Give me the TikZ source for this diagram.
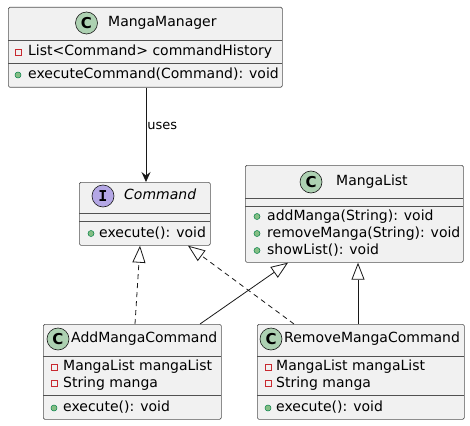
\documentclass[tikz,border=0pt]{standalone}
\usepackage{fontspec}
\setmainfont{DejaVu Sans}
\newfontfamily\monobold{DejaVu Sans Mono}
\usetikzlibrary{arrows.meta,calc}
\definecolor{boxfill}{HTML}{F1F1F1}
\definecolor{boxline}{HTML}{181818}
\definecolor{cgreen}{HTML}{ADD1B2}
\definecolor{ipurple}{HTML}{B4A7E5}
\definecolor{pubfill}{HTML}{84BE84}
\definecolor{publine}{HTML}{038048}
\definecolor{privline}{HTML}{C82930}
\begin{document}
\begin{tikzpicture}[x=1pt,y=-1pt,
  umlbox/.style={draw=boxline!75, line width=0.7pt, fill=boxfill, rounded corners=1.5pt,
    anchor=north west, inner sep=0pt},
  divline/.style={draw=boxline!75, line width=0.7pt},
  cicon/.style={circle, draw=boxline, line width=0.6pt, fill=cgreen, minimum size=22pt,
    inner sep=0pt, font=\fontsize{15}{15}\selectfont\bfseries},
  iicon/.style={circle, draw=boxline, line width=0.6pt, fill=ipurple, minimum size=22pt,
    inner sep=0pt, font=\fontsize{15}{15}\selectfont\monobold\bfseries},
  cname/.style={anchor=west, inner sep=0pt, text height=10.5pt, text depth=3pt,
    font=\fontsize{14}{16}\selectfont},
  member/.style={anchor=west, inner sep=0pt, text height=10.5pt, text depth=3pt,
    font=\fontsize{14}{16}\selectfont},
  priv/.style={rectangle, draw=privline, line width=0.6pt, minimum size=6pt, inner sep=0pt},
  pub/.style={circle, draw=publine, line width=0.5pt, fill=pubfill, minimum size=6pt, inner sep=0pt},
  conn/.style={draw=boxline, line width=0.8pt},
  assoc/.style={conn, -{Stealth[length=10pt,width=9pt,inset=3.5pt]}},
  realiz/.style={conn, dash pattern=on 5pt off 4pt, -{Triangle[length=17pt,width=13pt,fill=white]}},
  generalz/.style={conn, -{Triangle[length=17pt,width=13pt,fill=white]}}
]
\useasboundingbox (0,0) rectangle (470,425);

% ---------- MangaManager ----------
\node[umlbox, minimum width=274pt, minimum height=80pt] (mm) at (8,7) {};
\draw[divline] (8,40) -- (282,40);
\draw[divline] (8,63) -- (282,63);
\node[cicon] (mmi) at (86.5,23) {C};
\node[cname] (mmn) at (108,23) {MangaManager};
\node[priv] (mmp1) at (18,52) {};
\node[member] (mma1) at (28,52) {List<Command> commandHistory};
\node[pub] (mmp2) at (18,75) {};
\node[member] (mmm1) at (28,75) {executeCommand(Command): void};

% ---------- Command ----------
\node[umlbox, minimum width=131pt, minimum height=63pt] (cmd) at (79,182) {};
\draw[divline] (79,213) -- (210,213);
\draw[divline] (79,221) -- (210,221);
\node[iicon] (cmdi) at (103,196) {I};
\node[cname, font=\fontsize{14}{16}\selectfont\itshape] (cmdn) at (124,196) {Command};
\node[pub] (cmdp1) at (91,233.5) {};
\node[member] (cmdm1) at (99,233.5) {execute(): void};

% ---------- MangaList ----------
\node[umlbox, minimum width=218pt, minimum height=97pt] (ml) at (245,165) {};
\draw[divline] (245,198) -- (463,198);
\draw[divline] (245,206) -- (463,206);
\node[cicon] (mli) at (311,182) {C};
\node[cname] (mln) at (336,182) {MangaList};
\node[pub] (mlp1) at (257,216.5) {};
\node[member] (mlm1) at (267,216.5) {addManga(String): void};
\node[pub] (mlp2) at (257,233.5) {};
\node[member] (mlm2) at (267,233.5) {removeManga(String): void};
\node[pub] (mlp3) at (257,250.5) {};
\node[member] (mlm3) at (267,250.5) {showList(): void};

% ---------- AddMangaCommand ----------
\node[umlbox, minimum width=178pt, minimum height=95pt] (add) at (43,324) {};
\draw[divline] (43,356) -- (221,356);
\draw[divline] (43,395) -- (221,395);
\node[cicon] (addi) at (58,339) {C};
\node[cname] (addn) at (71,339) {AddMangaCommand};
\node[priv] (addp1) at (54,367) {};
\node[member] (adda1) at (63,367) {MangaList mangaList};
\node[priv] (addp2) at (54,383.5) {};
\node[member] (adda2) at (63,383.5) {String manga};
\node[pub] (addp3) at (54,408) {};
\node[member] (addm1) at (63,408) {execute(): void};

% ---------- RemoveMangaCommand ----------
\node[umlbox, minimum width=207pt, minimum height=95pt] (rem) at (257,324) {};
\draw[divline] (257,356) -- (464,356);
\draw[divline] (257,395) -- (464,395);
\node[cicon] (remi) at (271,339) {C};
\node[cname] (remn) at (284,339) {RemoveMangaCommand};
\node[priv] (remp1) at (268,367) {};
\node[member] (rema1) at (276,367) {MangaList mangaList};
\node[priv] (remp2) at (268,383.5) {};
\node[member] (rema2) at (276,383.5) {String manga};
\node[pub] (remp3) at (268,408) {};
\node[member] (remm1) at (276,408) {execute(): void};

% ---------- connectors ----------
\draw[assoc] ([xshift=138pt]mm.south west) -- ([xshift=67pt]cmd.north west)
  node[pos=0.41, anchor=west, inner sep=0pt, xshift=1pt, font=\fontsize{13}{15}\selectfont] (uses) {uses};
\draw[realiz] ([xshift=92pt]add.north west) -- ([xshift=61pt]cmd.south west);
\draw[realiz] ([xshift=37pt]rem.north west) -- ([xshift=109pt]cmd.south west);
\draw[generalz] ([xshift=157pt]add.north west) -- ([xshift=43pt]ml.south west);
\draw[generalz] ([xshift=101pt]rem.north west) -- ([xshift=113pt]ml.south west);
\end{tikzpicture}
\end{document}
